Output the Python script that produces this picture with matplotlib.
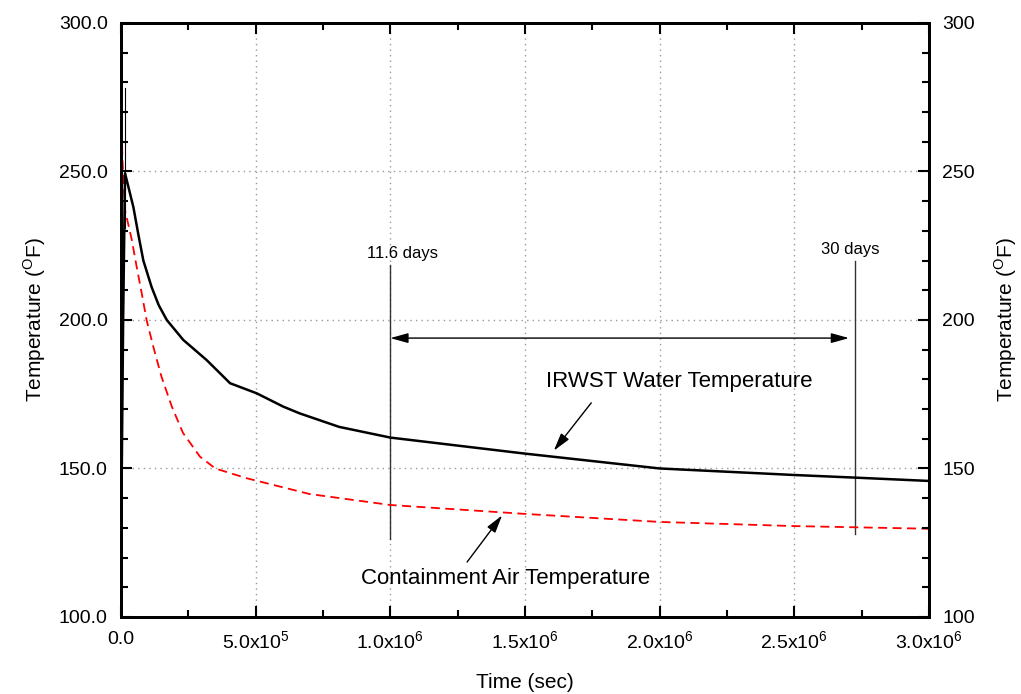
import numpy as np
import matplotlib
matplotlib.use("Agg")
import matplotlib.pyplot as plt
from matplotlib.ticker import MultipleLocator, FixedLocator

plt.rcParams['font.family'] = ['Liberation Sans', 'DejaVu Sans']
plt.rcParams['mathtext.fontset'] = 'custom'
plt.rcParams['mathtext.rm'] = 'Liberation Sans'

# IRWST water temperature (time in sec, temp in F)
water_t = [0, 8e3, 1.5e4, 4.6e4, 6.4e4, 8.3e4, 1.14e5, 1.4e5, 1.7e5,
           2.31e5, 3.18e5, 4.05e5, 5.04e5, 6.03e5, 6.65e5, 8.1e5, 1.0e6,
           1.5e6, 2.0e6, 2.5e6, 2.73e6, 3.0e6]
water_T = [120.0, 200.0, 249.4, 238.0, 229.0, 220.0, 211.0, 205.0, 200.0,
           193.3, 186.5, 178.7, 175.3, 170.8, 168.5, 164.0, 160.4,
           155.0, 150.0, 147.8, 146.9, 145.8]

# containment air temperature
air_t = [0, 5e3, 1.5e4, 4.0e4, 5.8e4, 7.7e4, 9.5e4, 1.2e5, 1.5e5, 1.88e5,
         2.3e5, 2.93e5, 3.5e5, 4.67e5, 7.0e5, 1.0e6, 1.5e6, 2.0e6, 2.5e6, 3.0e6]
air_T = [278.0, 255.0, 237.0, 227.0, 218.0, 209.0, 200.0, 191.0, 181.0, 171.0,
         162.0, 154.0, 150.0, 146.7, 141.4, 137.7, 134.7, 132.0, 130.6, 129.7]

# thin early spike marker
spike_t = [1.5e4, 1.5e4]
spike_T = [231.0, 278.0]

# time markers
mark_t = [1.0e6, 2.726e6]
mark_lo = [126.3, 128.0]
mark_hi = [218.6, 219.7]
mark_lbl = ['11.6 days', '30 days']
mark_lbl_x = [1.044e6, 2.707e6]
mark_lbl_y = [222.3, 223.7]

xticks = [0, 5e5, 1e6, 1.5e6, 2e6, 2.5e6, 3e6]
xlabels = ['0.0', r'5.0x10$^{5}$', r'1.0x10$^{6}$', r'1.5x10$^{6}$',
           r'2.0x10$^{6}$', r'2.5x10$^{6}$', r'3.0x10$^{6}$']
yticks = [100, 150, 200, 250, 300]

fig = plt.figure(figsize=(10.21, 6.94), dpi=100)
ax = fig.add_axes([0.1185, 0.111, 0.7914, 0.8559])

ax.plot(air_t, air_T, color='red', ls=(0, (5, 3)), lw=1.3, zorder=3)
ax.plot(water_t, water_T, color='black', lw=1.8, zorder=4)
ax.plot(spike_t, spike_T, color='black', lw=0.8, zorder=4)

for t, lo, hi in zip(mark_t, mark_lo, mark_hi):
    ax.plot([t, t], [lo, hi], color='#333333', lw=1.0, zorder=2)
for s, x, y in zip(mark_lbl, mark_lbl_x, mark_lbl_y):
    ax.text(x, y, s, fontsize=12, ha='center', va='center')

head = 'head_length=0.9,head_width=0.25'
ax.annotate('', xy=(1.0e6, 193.9), xytext=(2.703e6, 193.9),
            arrowprops=dict(arrowstyle='<|-|>,' + head, color='black', lw=1.0,
                            mutation_scale=12, shrinkA=0, shrinkB=0))

ax.annotate('', xy=(1.607e6, 156.0), xytext=(1.746e6, 172.1),
            arrowprops=dict(arrowstyle='-|>,' + head, color='black', lw=1.0,
                            mutation_scale=12, shrinkA=0, shrinkB=0))
ax.text(2.073e6, 179.4, 'IRWST Water Temperature', fontsize=16,
        ha='center', va='center')

ax.annotate('', xy=(1.415e6, 134.2), xytext=(1.285e6, 118.5),
            arrowprops=dict(arrowstyle='-|>,' + head, color='black', lw=1.0,
                            mutation_scale=12, shrinkA=0, shrinkB=0))
ax.text(1.426e6, 112.8, 'Containment Air Temperature', fontsize=16,
        ha='center', va='center')

ax.set_xlim(0, 3e6)
ax.set_ylim(100, 300)
ax.xaxis.set_major_locator(FixedLocator(xticks))
ax.set_xticklabels(xlabels)
ax.xaxis.set_minor_locator(MultipleLocator(2.5e5))
ax.yaxis.set_major_locator(FixedLocator(yticks))
ax.set_yticklabels(['%.1f' % v for v in yticks])
ax.yaxis.set_minor_locator(MultipleLocator(10))
ax.grid(True, which='major', color='#999999', ls=(0, (1, 3)), lw=1.0)
ax.tick_params(which='both', direction='in', top=True, right=False,
               labelsize=14, width=1.5)
ax.tick_params(which='major', length=8)
ax.tick_params(which='minor', length=5)
ax.tick_params(axis='x', pad=10)
ax.tick_params(axis='y', pad=9.5)
for sp in ax.spines.values():
    sp.set_linewidth(2)

ax.set_xlabel('Time (sec)', fontsize=15, labelpad=14)
ax.set_ylabel(r'Temperature ($^{\rm O}$F)', fontsize=15, labelpad=8)

ax2 = ax.twinx()
ax2.set_ylim(100, 300)
ax2.yaxis.set_major_locator(FixedLocator(yticks))
ax2.set_yticklabels([str(v) for v in yticks])
ax2.yaxis.set_minor_locator(MultipleLocator(10))
ax2.tick_params(which='both', direction='in', labelsize=14, width=1.5, pad=9.5)
ax2.tick_params(which='major', length=8)
ax2.tick_params(which='minor', length=5)
ax2.set_ylabel(r'Temperature ($^{\rm O}$F)', fontsize=15, labelpad=13)
for sp in ax2.spines.values():
    sp.set_linewidth(2)

fig.savefig('out.png', dpi=100)
